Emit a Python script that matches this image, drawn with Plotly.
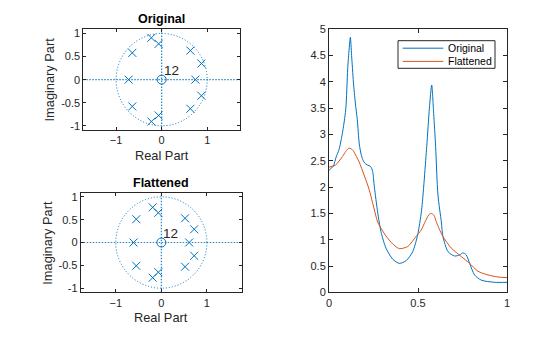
import plotly.graph_objects as go

# ---------------- data ----------------
orig_pole_re = [-0.226, -0.226, -0.066, -0.066, -0.644, -0.644, 0.631, 0.631, 0.873, 0.873, -0.725, 0.74]
orig_pole_im = [0.906, -0.906, 0.775, -0.775, 0.58, -0.58, 0.63, -0.63, 0.348, -0.348, 0.0, 0.0]
flat_pole_re = [-0.19, -0.19, -0.066, -0.066, -0.55, -0.55, 0.52, 0.52, 0.72, 0.72, -0.61, 0.61]
flat_pole_im = [0.77, -0.77, 0.65, -0.65, 0.51, -0.51, 0.53, -0.53, 0.29, -0.29, 0.0, 0.0]
zero_re = [0.0]
zero_im = [0.0]
zero_mult = "12"

freq_orig = [0, 0.024, 0.040, 0.056, 0.075, 0.094, 0.105, 0.113, 0.120, 0.127, 0.137, 0.148,
             0.159, 0.170, 0.180, 0.190, 0.200, 0.215, 0.234, 0.245, 0.255, 0.273, 0.292, 0.320,
             0.358, 0.395, 0.433, 0.470, 0.498, 0.520, 0.549, 0.564, 0.577, 0.588, 0.599, 0.612,
             0.631, 0.640, 0.669, 0.706, 0.734, 0.753, 0.771, 0.790, 0.818, 0.856, 0.930, 1.0]
mag_orig = [2.32, 2.40, 2.57, 2.71, 3.02, 3.47, 4.25, 4.62, 4.85, 4.50, 4.00, 3.60,
            3.28, 2.82, 2.63, 2.52, 2.46, 2.42, 2.39, 2.30, 2.00, 1.53, 1.15, 0.84,
            0.63, 0.55, 0.60, 0.77, 1.09, 1.56, 2.77, 3.50, 3.94, 3.40, 2.77, 1.85,
            1.34, 1.06, 0.77, 0.69, 0.71, 0.75, 0.71, 0.55, 0.33, 0.23, 0.19, 0.19]
freq_flat = [0, 0.037, 0.075, 0.095, 0.112, 0.128, 0.140, 0.169, 0.197, 0.225, 0.245, 0.274,
             0.292, 0.320, 0.358, 0.395, 0.442, 0.489, 0.517, 0.540, 0.560, 0.575, 0.590,
             0.603, 0.620, 0.640, 0.687, 0.743, 0.790, 0.837, 0.893, 0.950, 1.0]
mag_flat = [2.38, 2.42, 2.58, 2.68, 2.74, 2.72, 2.67, 2.48, 2.23, 1.96, 1.70, 1.33,
            1.22, 1.07, 0.92, 0.83, 0.87, 1.06, 1.18, 1.34, 1.47, 1.50, 1.46,
            1.34, 1.20, 1.06, 0.84, 0.68, 0.55, 0.40, 0.33, 0.29, 0.28]

series_names = ["Original", "Flattened"]
pz_titles = ["Original", "Flattened"]
pz_tick_vals = [-1, 0, 1]
pz_ytick_vals = [-1, -0.5, 0, 0.5, 1]
pz_ytick_text = ["-1", "-0.5", "0", "0.5", "1"]
fr_ytick_vals = [0, 0.5, 1, 1.5, 2, 2.5, 3, 3.5, 4, 4.5, 5]
fr_ytick_text = ["0", "0.5", "1", "1.5", "2", "2.5", "3", "3.5", "4", "4.5", "5"]
fr_xtick_vals = [0, 0.5, 1]
fr_xtick_text = ["0", "0.5", "1"]

# ---------------- styles ----------------
BLUE = "#0072BD"
ORANGE = "#D95319"
AX = "#262626"
FONT = "Liberation Sans, Arial, sans-serif"
W, H = 560, 337


def px_x(p):
    return p / W


def px_y(p):
    return 1 - p / H


fig = go.Figure()

# pole-zero plots
pz_sets = [(orig_pole_re, orig_pole_im, "x", "y"), (flat_pole_re, flat_pole_im, "x2", "y2")]
annots = []
for re, im, xa, ya in pz_sets:
    fig.add_trace(go.Scatter(x=re, y=im, mode="markers", xaxis=xa, yaxis=ya, showlegend=False,
                             marker=dict(symbol="x-thin", size=8, color=BLUE,
                                         line=dict(width=1, color=BLUE))))
    fig.add_trace(go.Scatter(x=zero_re, y=zero_im, mode="markers", xaxis=xa, yaxis=ya,
                             showlegend=False,
                             marker=dict(symbol="circle-open", size=9, color=BLUE,
                                         line=dict(width=1, color=BLUE))))
    annots.append(dict(text=zero_mult, x=zero_re[0], y=zero_im[0], xref=xa, yref=ya,
                       xanchor="left", yanchor="bottom", xshift=0, yshift=0, showarrow=False,
                       font=dict(size=13.5, color=AX, family=FONT)))
    # unit circle
    fig.add_shape(type="circle", xref=xa, yref=ya, x0=-1, y0=-1, x1=1, y1=1,
                  line=dict(color=BLUE, width=1, dash="1px,2px"), layer="below")
    # dotted real / imaginary axes
    fig.add_shape(type="line", xref=xa + " domain", yref=ya, x0=0, x1=1, y0=0, y1=0,
                  line=dict(color=BLUE, width=1.2, dash="1.5px,1.5px"), opacity=0.85,
                  layer="below")
    fig.add_shape(type="line", xref=xa, yref=ya + " domain", x0=0, x1=0, y0=0, y1=1,
                  line=dict(color=BLUE, width=1.2, dash="1.5px,1.5px"), opacity=0.85,
                  layer="below")

# frequency response
fig.add_trace(go.Scatter(x=freq_orig, y=mag_orig, mode="lines", name=series_names[0],
                         xaxis="x3", yaxis="y3", showlegend=False,
                         line=dict(color=BLUE, width=1, shape="spline", smoothing=0.7)))
fig.add_trace(go.Scatter(x=freq_flat, y=mag_flat, mode="lines", name=series_names[1],
                         xaxis="x3", yaxis="y3", showlegend=False,
                         line=dict(color=ORANGE, width=1, shape="spline", smoothing=0.7)))

common = dict(showline=True, linecolor=AX, linewidth=1, mirror="allticks", ticks="inside",
              tickcolor=AX, tickwidth=1, showgrid=False, zeroline=False,
              tickfont=dict(size=11, color=AX, family=FONT))

dom1 = dict(x=[px_x(83.3), px_x(240)], y=[px_y(130), px_y(29.3)])
dom2 = dict(x=[px_x(80.7), px_x(242)], y=[px_y(292.3), px_y(192.7)])
dom3 = dict(x=[px_x(329), px_x(507)], y=[px_y(292.3), px_y(29.3)])

fig.update_layout(
    width=W, height=H, margin=dict(l=0, r=0, t=0, b=0, autoexpand=False),
    paper_bgcolor="white", plot_bgcolor="white",
    font=dict(family=FONT, color=AX),
    xaxis=dict(domain=dom1["x"], anchor="y", range=[-1.72, 1.72], tickvals=pz_tick_vals,
               ticklen=3, **common),
    yaxis=dict(domain=dom1["y"], anchor="x", range=[-1.09, 1.09], tickvals=pz_ytick_vals,
               ticktext=pz_ytick_text, ticklen=3, **common),
    xaxis2=dict(domain=dom2["x"], anchor="y2", range=[-1.77, 1.77], tickvals=pz_tick_vals,
                ticklen=3, **common),
    yaxis2=dict(domain=dom2["y"], anchor="x2", range=[-1.09, 1.09], tickvals=pz_ytick_vals,
                ticktext=pz_ytick_text, ticklen=3, **common),
    xaxis3=dict(domain=dom3["x"], anchor="y3", range=[0, 1], tickvals=fr_xtick_vals,
                ticktext=fr_xtick_text, ticklen=4, **common),
    yaxis3=dict(domain=dom3["y"], anchor="x3", range=[0, 5], tickvals=fr_ytick_vals,
                ticktext=fr_ytick_text, ticklen=4, **common),
    showlegend=False,
)

for title, dom in [(pz_titles[0], dom1), (pz_titles[1], dom2)]:
    cx = (dom["x"][0] + dom["x"][1]) / 2
    cy = (dom["y"][0] + dom["y"][1]) / 2
    annots.append(dict(text="<b>" + title + "</b>", x=cx, y=dom["y"][1], xref="paper", yref="paper",
                       xanchor="center", yanchor="middle", yshift=10, showarrow=False,
                       font=dict(size=12.5, color="black", family=FONT)))
    annots.append(dict(text="Real Part", x=cx, y=dom["y"][0], xref="paper", yref="paper",
                       xanchor="center", yanchor="middle", yshift=-25, showarrow=False,
                       font=dict(size=12.8, color=AX, family=FONT)))
    annots.append(dict(text="Imaginary Part", x=dom["x"][0], y=cy, xref="paper", yref="paper",
                       xanchor="center", yanchor="middle", xshift=-33.5, textangle=-90,
                       showarrow=False, font=dict(size=12.8, color=AX, family=FONT)))

# manual legend (MATLAB style) for the frequency response panel
fig.add_shape(type="rect", xref="paper", yref="paper",
              x0=px_x(398), x1=px_x(495), y0=px_y(68.3), y1=px_y(40.7),
              line=dict(color=AX, width=1), fillcolor="white", layer="above")
for i, (name, col) in enumerate(zip(series_names, [BLUE, ORANGE])):
    yy = 48.2 + i * 13.2
    fig.add_shape(type="line", xref="paper", yref="paper",
                  x0=px_x(402.7), x1=px_x(443.3), y0=px_y(yy), y1=px_y(yy),
                  line=dict(color=col, width=1), layer="above")
    annots.append(dict(text=name, x=px_x(445.5), y=px_y(yy), xref="paper", yref="paper",
                       xanchor="left", yanchor="middle", showarrow=False,
                       font=dict(size=10.5, color="black", family=FONT)))

fig.update_layout(annotations=annots)

fig.write_html("out.html")
